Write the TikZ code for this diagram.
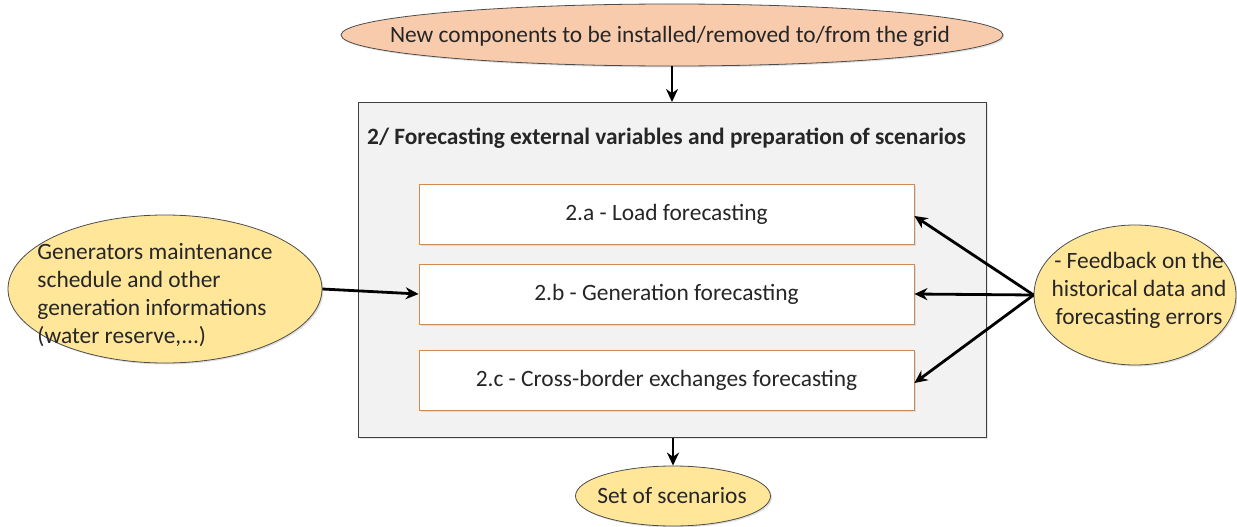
\documentclass[tikz,border=0pt]{standalone}
\usepackage{fontspec}
\setmainfont{Carlito}
\usetikzlibrary{shapes.geometric,arrows.meta,shadows}
\definecolor{peach}{HTML}{F8CBAD}
\definecolor{sand}{HTML}{FFE699}
\definecolor{panel}{HTML}{F2F2F2}
\definecolor{taskedge}{HTML}{D08A55}
\tikzset{
  x=1pt, y=-1pt,
  every node/.style={font=\fontsize{23.4}{28}\selectfont, text=black!85},
  oval/.style={ellipse, draw=black!70, line width=0.8pt, inner sep=0pt,
    drop shadow={shadow xshift=1.5pt, shadow yshift=-1.5pt, opacity=0.25}},
  label text/.style={inner sep=0pt},
  task/.style={rectangle, draw=taskedge, fill=white, line width=0.8pt,
    minimum width=495pt, minimum height=60pt,
    drop shadow={shadow xshift=1.5pt, shadow yshift=-2pt, opacity=0.2}},
  flow/.style={line width=2.8pt, -{Stealth[length=13pt,width=12pt]}},
}
\begin{document}
\begin{tikzpicture}
\useasboundingbox (0,0) rectangle (1237,527);

% stage panel
\node[rectangle, draw=black!75, fill=panel, line width=0.9pt,
  minimum width=628pt, minimum height=335pt, anchor=north west,
  drop shadow={shadow xshift=1.5pt, shadow yshift=-2pt, opacity=0.2}]
  (panel) at (358,102) {};
\node[font=\bfseries\fontsize{23.4}{28}\selectfont, anchor=west, inner sep=0pt] (title)
  at (367,138) {2/ Forecasting external variables and preparation of scenarios};

% forecasting tasks
\node[task] (load) at (666.5,214) {2.a - Load forecasting};
\node[task] (gen)  at (666.5,294) {2.b - Generation forecasting};
\node[task] (xb)   at (666.5,380) {2.c - Cross-border exchanges forecasting};

% inputs and outputs (fixed-size ovals, text set on top)
\node[oval, fill=peach, minimum width=662pt, minimum height=62pt] (newc) at (672,35) {};
\node[label text] (newctxt) at (670,36)
  {New components to be installed/removed to/from the grid};

\node[oval, fill=sand, minimum width=314pt, minimum height=148pt] (genin) at (165,289) {};
\node[label text, align=left] (gentxt) at (155,295)
  {Generators maintenance\\schedule and other\\generation informations\\(water reserve,...)};

\node[oval, fill=sand, minimum width=202pt, minimum height=140pt] (fb) at (1135,295) {};
\node[label text, align=center] (fbtxt) at (1139,290)
  {- Feedback on the\\historical data and\\forecasting errors};

\node[oval, fill=sand, minimum width=195pt, minimum height=60pt] (set) at (673,496) {};
\node[label text] (settxt) at (672,496) {Set of scenarios};

% connectors
\draw[flow] (newc.south) -- (newc.south |- panel.north);
\draw[flow] (panel.south -| set.north) -- (set.north);
\draw[flow] (genin.east) -- (gen.west);
\coordinate (fbl) at (fb.west);
\draw[flow] (fbl) -- ([yshift=-2pt]load.east);
\draw[flow] (fbl) -- (gen.east);
\draw[flow] (fbl) -- ([yshift=-3pt]xb.east);
\end{tikzpicture}
\end{document}
